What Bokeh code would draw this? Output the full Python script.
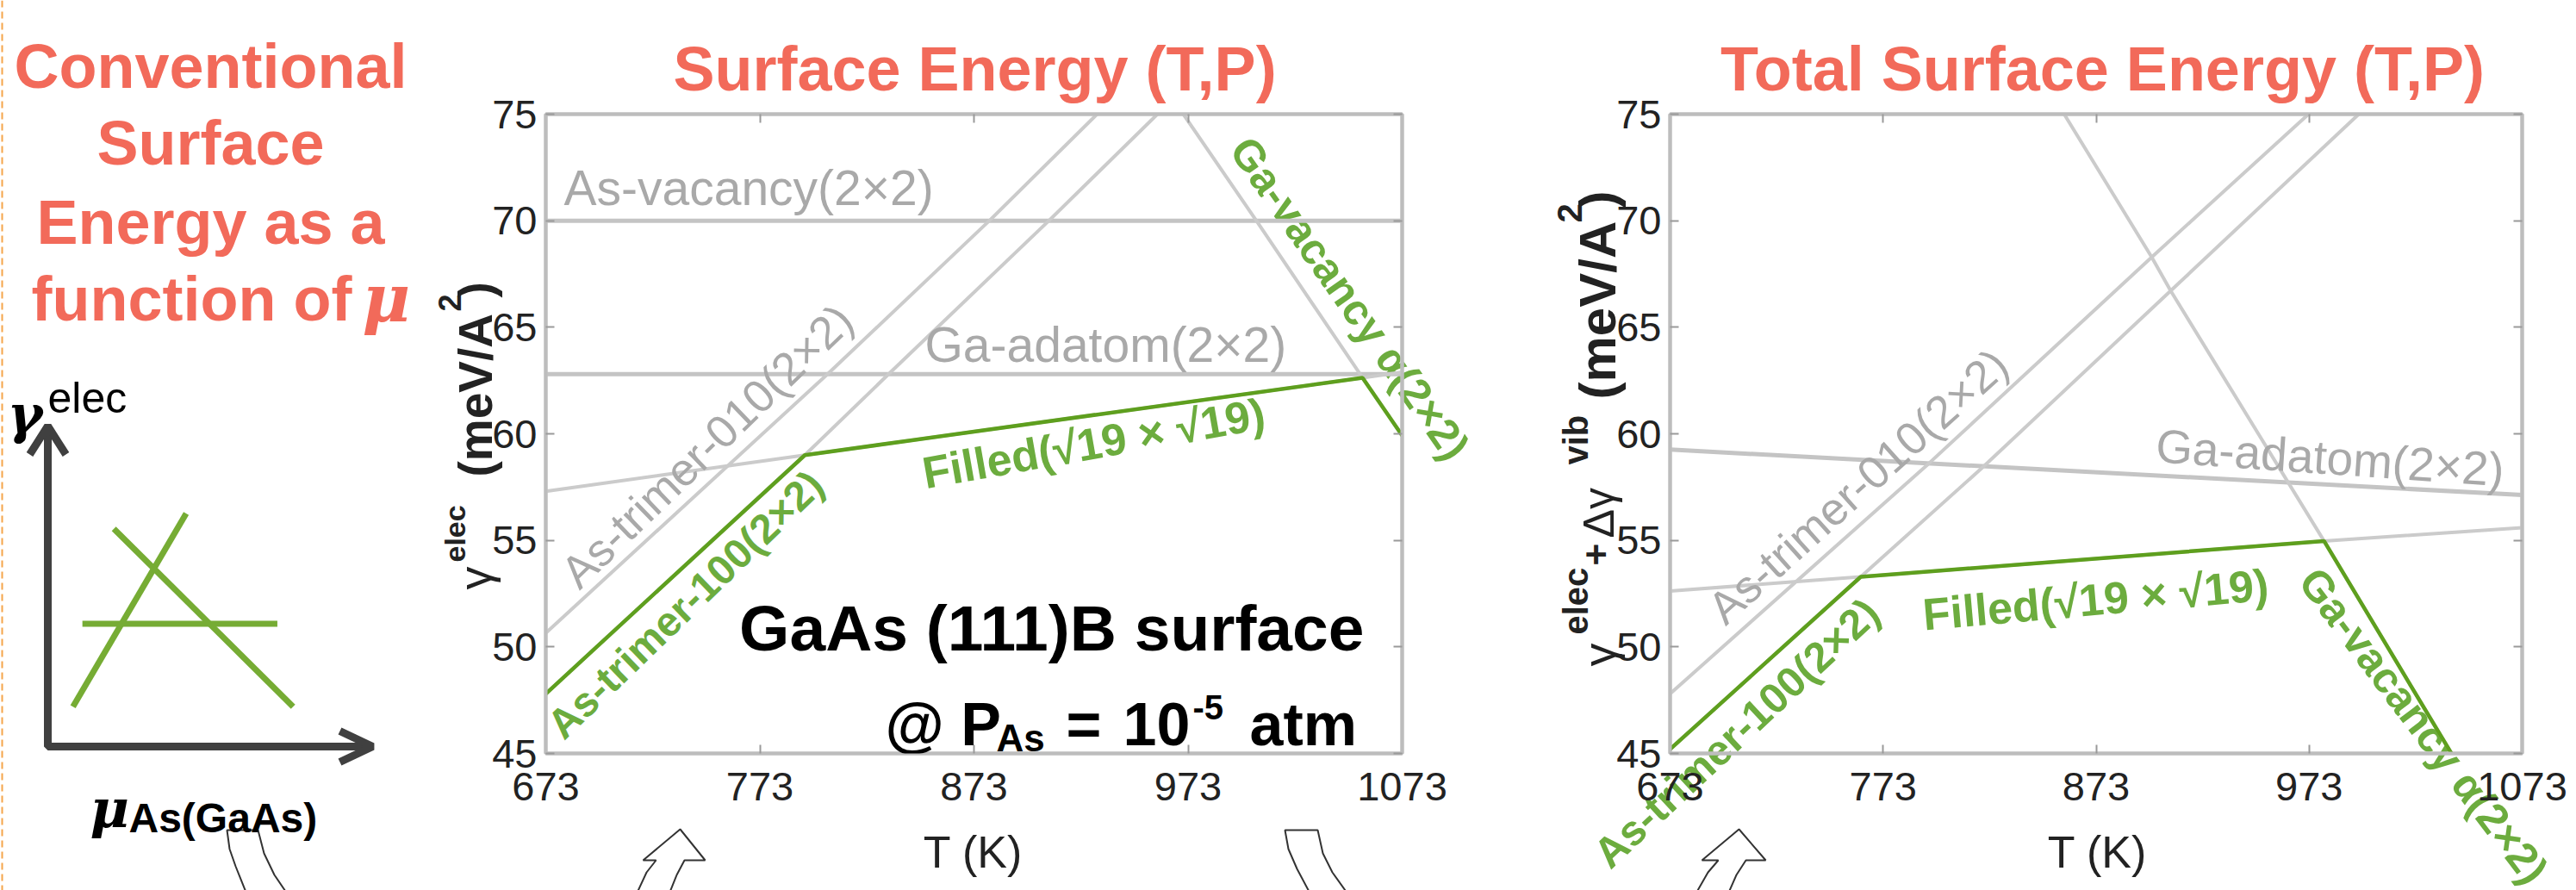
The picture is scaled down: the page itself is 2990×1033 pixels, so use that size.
import math
from bokeh.plotting import figure
from bokeh.layouts import row, column
from bokeh.models import Range1d, FixedTicker, LinearAxis, Label
from bokeh.embed import file_html
from bokeh.resources import INLINE

# ---------------- values ----------------
T_ticks = [673, 773, 873, 973, 1073]
gamma_ticks = [45, 50, 55, 60, 65, 70, 75]

# Panel 1: electronic surface energy gamma_elec (meV/A^2) vs T (K)
elec_as_vacancy_T = [673, 1073]
elec_as_vacancy_g = [70.0, 70.0]
elec_ga_adatom_T = [673, 1073]
elec_ga_adatom_g = [62.8, 62.8]
elec_filled_T = [673, 794, 1054.5, 1073]
elec_filled_g = [57.3, 59.0, 62.63, 62.89]
elec_as_trimer_100_T = [673, 794, 833.1, 908, 958.7]
elec_as_trimer_100_g = [47.8, 59.0, 62.8, 70.0, 75.0]
elec_as_trimer_010_T = [673, 804.6, 880.2, 930.5]
elec_as_trimer_010_g = [50.65, 62.8, 70.0, 75.0]
elec_ga_vacancy_T = [970.8, 1004.9, 1054.5, 1073]
elec_ga_vacancy_g = [75.0, 70.0, 62.63, 59.92]
elec_stable_T = [673, 794, 1054.5, 1073]
elec_stable_g = [47.8, 59.0, 62.63, 59.92]

# Panel 2: total surface energy gamma_elec + d gamma_vib (meV/A^2) vs T (K)
tot_ga_adatom_T = [673, 1073]
tot_ga_adatom_g = [59.26, 57.13]
tot_filled_T = [673, 762.5, 980.0, 1073]
tot_filled_g = [52.62, 53.29, 54.97, 55.59]
tot_as_trimer_100_T = [673, 762.5, 819.8, 908.0, 996.3]
tot_as_trimer_100_g = [45.2, 53.29, 58.43, 66.71, 75.0]
tot_as_trimer_010_T = [673, 794.7, 899.1, 972.7]
tot_as_trimer_010_g = [47.8, 58.63, 68.29, 75.0]
tot_ga_vacancy_T = [858.0, 899.1, 908.0, 980.0, 1039.8]
tot_ga_vacancy_g = [75.0, 68.29, 66.71, 54.97, 45.0]
tot_stable_T = [673, 762.5, 980.0, 1039.8]
tot_stable_g = [45.2, 53.29, 54.97, 45.0]

# schematic sketch in the left panel (arbitrary units)
sketch_rise_mu = [0.08, 0.44]
sketch_rise_g = [0.13, 0.76]
sketch_fall_mu = [0.21, 0.78]
sketch_fall_g = [0.71, 0.13]
sketch_flat_mu = [0.11, 0.73]
sketch_flat_g = [0.40, 0.40]

# ---------------- styles ----------------
SALMON = "#F26A5A"
GREEN_LINE = "#5E9F1E"
GREEN_TXT = "#6CAC3E"
GRAY_LINE = "#cbcbcb"
GRAY_H = "#c4c4c4"
GRAY_TXT = "#a9a9a9"
AXIS_GRAY = "#bdbdbd"
INK = "#222222"
FONT = "Liberation Sans"
W, H = 2990, 1033


def lab(p, x, y, text, size, color="#000000", font=FONT, style="normal",
        angle=0.0, align="left", baseline="middle"):
    p.add_layout(Label(x=x, y=y, text=text, text_font_size=f"{size}px",
                       text_color=color, text_font=font, text_font_style=style,
                       angle=math.radians(angle), text_align=align,
                       text_baseline=baseline))


def chart(width, bl, br, bt, bb):
    p = figure(width=width, height=H, x_range=Range1d(673, 1073),
               y_range=Range1d(45, 75), output_backend="svg",
               toolbar_location=None, min_border_left=bl, min_border_right=br,
               min_border_top=bt, min_border_bottom=bb)
    p.grid.visible = False
    p.background_fill_color = None
    p.border_fill_color = None
    p.outline_line_color = AXIS_GRAY
    p.outline_line_width = 4
    p.add_layout(LinearAxis(), "above")
    p.add_layout(LinearAxis(), "right")
    p.xaxis.ticker = FixedTicker(ticks=T_ticks)
    p.yaxis.ticker = FixedTicker(ticks=gamma_ticks)
    for ax in p.axis:
        ax.axis_line_color = AXIS_GRAY
        ax.axis_line_width = 4
        ax.major_tick_line_color = "#9a9a9a"
        ax.major_tick_line_width = 2
        ax.major_tick_in = 10
        ax.major_tick_out = 0
        ax.minor_tick_line_color = None
        ax.major_label_text_font = FONT
        ax.major_label_text_font_size = "47px"
        ax.major_label_text_color = INK
        ax.axis_label = None
    p.below[0].major_label_standoff = 22
    p.left[0].major_label_standoff = 10
    for ax in (p.above[0], p.right[0]):
        ax.major_label_text_color = None
        ax.major_label_standoff = 0
    return p


# ================= background canvas (pixel coordinates) =================
bg = figure(width=W, height=H, x_range=Range1d(0, W), y_range=Range1d(H, 0),
            output_backend="svg", toolbar_location=None, min_border=0,
            x_axis_location=None, y_axis_location=None)
bg.grid.visible = False
bg.outline_line_color = None
bg.background_fill_color = None
bg.border_fill_color = "white"

bg.line([2, 2], [0, H], line_color="#F5A54A", line_width=2, line_dash="8 5")

for txt, yy in (("Conventional", 76), ("Surface", 165), ("Energy as a", 257)):
    lab(bg, 244, yy, txt, 72, SALMON, style="bold", align="center")
lab(bg, 408, 346, "function of", 72, SALMON, style="bold", align="right")
lab(bg, 420, 346, "μ", 76, SALMON, font="DejaVu Serif", style="bold italic")

# schematic axes
sx0, sx1, sy0, sy1 = 55, 420, 866, 510


def smx(v):
    return [sx0 + t * (sx1 - sx0) for t in v]


def smy(v):
    return [sy0 - t * (sy0 - sy1) for t in v]


bg.line([sx0, sx0, 432], [494, sy0, sy0], line_color="#404040", line_width=9)
bg.line([34, 55, 76], [527, 494, 527], line_color="#404040", line_width=9)
bg.line([394, 432, 394], [848, 866, 884], line_color="#404040", line_width=9)
for xs, ys in ((sketch_rise_mu, sketch_rise_g), (sketch_fall_mu, sketch_fall_g),
               (sketch_flat_mu, sketch_flat_g)):
    bg.line(smx(xs), smy(ys), line_color="#76AC34", line_width=7)

lab(bg, 8, 480, "γ", 62, "#000000", font="DejaVu Serif", style="bold italic",
    baseline="alphabetic")
lab(bg, 55, 461, "elec", 50, "#000000", baseline="alphabetic")
lab(bg, 104, 938, "μ", 62, "#000000", font="DejaVu Serif", style="bold italic",
    baseline="alphabetic")
lab(bg, 149, 949, "As(GaAs)", 48, "#000000", style="bold", baseline="alphabetic")

# titles
lab(bg, 1131, 79, "Surface Energy (T,P)", 72, SALMON, style="bold", align="center")
lab(bg, 2440, 79, "Total Surface Energy (T,P)", 72, SALMON, style="bold",
    align="center")

# x-axis titles
lab(bg, 1129, 988, "T (K)", 52, INK, align="center")
lab(bg, 2434, 988, "T (K)", 52, INK, align="center")

# y-axis title, panel 1 (pieces, rotated)
lab(bg, 550, 684, "γ", 54, INK, angle=90, baseline="alphabetic")
lab(bg, 527, 652, "elec", 34, INK, style="bold", angle=90, baseline="alphabetic")
lab(bg, 551, 553, "(meV/A", 55, INK, style="bold", angle=90, baseline="alphabetic")
lab(bg, 521, 361, "2", 36, INK, style="bold", angle=90, baseline="alphabetic")
lab(bg, 551, 345, ")", 55, INK, style="bold", angle=90, baseline="alphabetic")

# y-axis title, panel 2
lab(bg, 1855, 773, "γ", 54, INK, angle=90, baseline="alphabetic")
lab(bg, 1828, 736, "elec", 40, INK, style="bold", angle=90, baseline="alphabetic")
lab(bg, 1852, 656, "+", 44, INK, style="bold", angle=90, baseline="alphabetic")
lab(bg, 1855, 624, "Δγ", 50, INK, angle=90, baseline="alphabetic")
lab(bg, 1828, 539, "vib", 40, INK, style="bold", angle=90, baseline="alphabetic")
lab(bg, 1854, 463, "(meV/A", 60, INK, style="bold", angle=90, baseline="alphabetic")
lab(bg, 1821, 258, "2", 40, INK, style="bold", angle=90, baseline="alphabetic")
lab(bg, 1854, 241, ")", 60, INK, style="bold", angle=90, baseline="alphabetic")

# labels that run past the plot frames
lab(bg, 795, 701, "As-trimer-100(2×2)", 48, GREEN_TXT, style="bold", angle=44,
    align="center")
lab(bg, 1566, 346, "Ga-vacancy α(2×2)", 50, GREEN_TXT, style="bold", angle=-55,
    align="center")
lab(bg, 2015, 850, "As-trimer-100(2×2)", 49, GREEN_TXT, style="bold", angle=43,
    align="center")
lab(bg, 2679, 665, "Ga-vacancy α(2×2)", 50, GREEN_TXT, style="bold", angle=-53,
    align="left")

# curved block arrows at the bottom
arrow_shapes = [
    ([263, 299, 306, 318, 335, 287, 273, 266], [963, 963, 990, 1015, 1040, 1040, 1005, 985]),
    ([789, 818, 794, 785, 775, 737, 750, 761, 746], [962, 998, 998, 1015, 1040, 1040, 1012, 998, 998]),
    ([1491, 1529, 1535, 1546, 1566, 1522, 1505, 1495], [963, 963, 990, 1012, 1040, 1040, 1008, 985]),
    ([2018, 2049, 2026, 2015, 2004, 1966, 1982, 1994, 1975], [962, 998, 998, 1015, 1040, 1040, 1012, 998, 998]),
]
for xs, ys in arrow_shapes:
    bg.patch(xs, ys, fill_color="white", line_color="#333333", line_width=2)

# ================= panel 1 =================
pb = chart(1300, 153, 153, 132, 159)


def bx(px):
    return 673 + (px - 633) * 400 / 994


def by(py):
    return 75 - (py - 132) * 30 / 742


for T, g in ((elec_as_vacancy_T, elec_as_vacancy_g), (elec_ga_adatom_T, elec_ga_adatom_g)):
    pb.line(T, g, line_color=GRAY_H, line_width=5)
for T, g in ((elec_filled_T, elec_filled_g), (elec_as_trimer_100_T, elec_as_trimer_100_g),
             (elec_as_trimer_010_T, elec_as_trimer_010_g), (elec_ga_vacancy_T, elec_ga_vacancy_g)):
    pb.line(T, g, line_color=GRAY_LINE, line_width=4)
pb.line(elec_stable_T, elec_stable_g, line_color=GREEN_LINE, line_width=4.5)

lab(pb, bx(654), by(217), "As-vacancy(2×2)", 57, GRAY_TXT)
lab(pb, bx(1073), by(399), "Ga-adatom(2×2)", 57, GRAY_TXT)
lab(pb, bx(820), by(517), "As-trimer-010(2×2)", 53, GRAY_TXT, angle=44, align="center")
lab(pb, bx(1269), by(514), "Filled(√19 × √19)", 52, GREEN_TXT, style="bold",
    angle=10, align="center")
lab(pb, bx(1583), by(728), "GaAs (111)B surface", 75, "#000000", style="bold",
    align="right")
lab(pb, bx(1027), by(840), "@ P", 70, "#000000", style="bold", baseline="alphabetic")
lab(pb, bx(1156), by(856), "As", 44, "#000000", style="bold", baseline="alphabetic")
lab(pb, bx(1237), by(840), "=", 70, "#000000", style="bold", baseline="alphabetic")
lab(pb, bx(1303), by(840), "10", 70, "#000000", style="bold", baseline="alphabetic")
lab(pb, bx(1384), by(820), "-5", 40, "#000000", style="bold", baseline="alphabetic")
lab(pb, bx(1450), by(840), "atm", 70, "#000000", style="bold", baseline="alphabetic")

# ================= panel 2 =================
pc = chart(1210, 158, 63, 132, 159)


def cx(px):
    return 673 + (px - 1938) * 400 / 989


def cy(py):
    return 75 - (py - 130) * 30 / 744


pc.line(tot_ga_adatom_T, tot_ga_adatom_g, line_color=GRAY_H, line_width=5)
for T, g in ((tot_filled_T, tot_filled_g), (tot_as_trimer_100_T, tot_as_trimer_100_g),
             (tot_as_trimer_010_T, tot_as_trimer_010_g), (tot_ga_vacancy_T, tot_ga_vacancy_g)):
    pc.line(T, g, line_color=GRAY_LINE, line_width=4)
pc.line(tot_stable_T, tot_stable_g, line_color=GREEN_LINE, line_width=4.5)

lab(pc, cx(2156), cy(563), "As-trimer-010(2×2)", 53, GRAY_TXT, angle=42, align="center")
lab(pc, cx(2704), cy(530), "Ga-adatom(2×2)", 55, GRAY_TXT, angle=-4, align="center")
lab(pc, cx(2432), cy(695), "Filled(√19 × √19)", 52, GREEN_TXT, style="bold",
    angle=5, align="center")

charts = row(pb, pc, margin=(-H, 0, 0, 480))
layout = column(bg, charts)
open("out.html", "w").write(file_html(layout, INLINE))
